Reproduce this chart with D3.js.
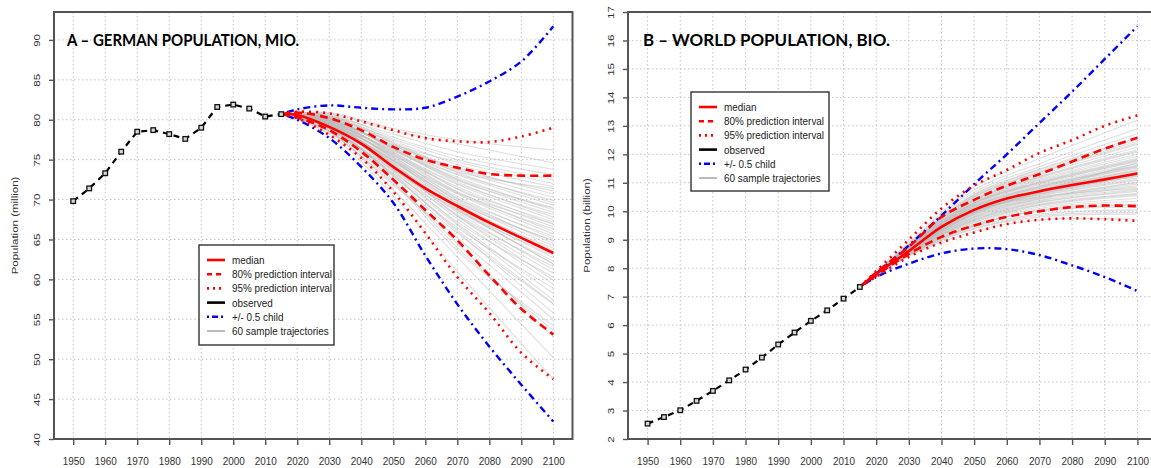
<!DOCTYPE html>
<html><head><meta charset="utf-8">
<script src="https://cdn.jsdelivr.net/npm/d3@7"></script>
<style>body{margin:0;background:#fff} text{font-family:"Liberation Sans",Arial,sans-serif}</style>
</head><body><svg id="c" width="1151" height="468"></svg>
<script>
// ---------- DATA ----------
const obsYears = [1950,1955,1960,1965,1970,1975,1980,1985,1990,1995,2000,2005,2010,2015];
const gerObserved = [69.8,71.4,73.3,76.0,78.5,78.7,78.2,77.6,79.0,81.6,81.9,81.4,80.4,80.7];
const worldObserved = [2.54,2.77,3.01,3.34,3.69,4.06,4.44,4.86,5.32,5.74,6.15,6.52,6.93,7.34];

const projYears = [2015,2020,2030,2040,2050,2060,2070,2080,2090,2100];
const gerMedian  = [80.7,80.6,79.1,77.0,74.1,71.4,69.2,67.1,65.2,63.3];
const gerPI80Up  = [80.7,80.9,80.2,78.7,76.6,75.0,74.0,73.2,73.0,73.0];
const gerPI80Lo  = [80.7,80.3,78.7,76.0,72.5,68.7,64.9,60.5,56.3,53.1];
const gerPI95Up  = [80.7,81.0,80.8,79.8,78.7,77.7,77.3,77.2,77.9,79.0];
const gerPI95Lo  = [80.7,80.2,78.1,75.2,71.0,65.8,60.3,55.8,50.8,47.5];
const gerChildUp = [80.7,81.3,81.8,81.5,81.3,81.5,82.9,84.8,87.3,91.7];
const gerChildLo = [80.7,80.0,77.7,74.1,69.6,63.0,56.9,51.6,46.8,42.2];

const worldMedian  = [7.34,7.80,8.60,9.45,10.05,10.45,10.70,10.92,11.12,11.33];
const worldPI80Up  = [7.34,7.85,8.75,9.80,10.40,10.90,11.30,11.75,12.20,12.58];
const worldPI80Lo  = [7.34,7.75,8.50,9.10,9.50,9.80,10.00,10.15,10.20,10.18];
const worldPI95Up  = [7.34,7.90,9.00,10.10,10.90,11.45,12.05,12.50,13.00,13.37];
const worldPI95Lo  = [7.34,7.70,8.40,8.90,9.25,9.55,9.70,9.75,9.72,9.66];
const worldChildUp = [7.34,7.80,8.80,9.85,10.95,12.00,13.10,14.20,15.35,16.50];
const worldChildLo = [7.34,7.69,8.16,8.52,8.69,8.67,8.46,8.10,7.69,7.20];

// sample trajectories: values at trajYears
const trajYears = [2015,2030,2050,2070,2100];
const gerTrajectories = [
 [80.7,78.2,70.5,61.0,47.5],[80.7,78.5,71.2,62.8,50.2],[80.7,78.4,72.0,64.5,52.8],[80.7,78.9,72.4,64.0,53.6],
 [80.7,78.6,71.8,65.2,55.0],[80.7,79.0,73.0,66.0,55.8],[80.7,78.8,72.6,65.8,56.9],[80.7,79.2,73.2,66.8,57.4],
 [80.7,78.7,73.5,67.0,58.2],[80.7,79.1,72.9,66.5,58.9],[80.7,79.3,73.8,67.6,59.4],[80.7,78.9,73.3,67.9,59.9],
 [80.7,79.4,73.6,67.2,60.3],[80.7,79.0,74.2,68.0,60.8],[80.7,79.5,73.9,68.4,61.2],[80.7,79.2,74.0,68.1,61.6],
 [80.7,79.6,74.5,68.8,62.0],[80.7,78.9,73.7,68.6,62.3],[80.7,79.3,74.3,69.0,62.7],[80.7,79.7,74.1,68.7,63.0],
 [80.7,79.1,74.6,69.3,63.3],[80.7,79.4,74.8,69.5,63.6],[80.7,79.8,74.4,69.2,63.9],[80.7,79.2,75.0,69.8,64.2],
 [80.7,79.5,74.7,70.1,64.5],[80.7,79.9,75.2,69.9,64.8],[80.7,79.3,74.9,70.4,65.1],[80.7,79.6,75.4,70.2,65.4],
 [80.7,80.0,75.1,70.7,65.7],[80.7,79.4,75.6,71.0,66.0],[80.7,79.7,75.3,70.8,66.3],[80.7,80.1,75.8,71.3,66.6],
 [80.7,79.5,75.5,71.6,66.9],[80.7,79.8,76.0,71.4,67.2],[80.7,80.2,75.7,71.9,67.5],[80.7,79.6,76.2,72.2,67.8],
 [80.7,79.9,75.9,72.0,68.1],[80.7,80.3,76.4,72.5,68.4],[80.7,79.7,76.1,72.8,68.7],[80.7,80.0,76.6,72.6,69.0],
 [80.7,80.4,76.3,73.1,69.3],[80.7,79.8,76.8,73.4,69.6],[80.7,80.1,76.5,73.2,69.9],[80.7,80.5,77.0,73.7,70.3],
 [80.7,79.9,76.7,74.0,70.7],[80.7,80.2,77.2,73.8,71.1],[80.7,80.6,77.4,74.4,71.6],[80.7,80.0,76.9,74.7,72.0],
 [80.7,80.3,77.6,75.0,72.5],[80.7,80.7,77.8,75.4,73.1],[80.7,80.4,78.2,76.0,73.8],[80.7,80.8,78.6,77.0,74.6],
 [80.7,78.6,72.2,63.6,54.2],[80.7,79.0,73.1,66.2,57.0],[80.7,79.3,74.1,68.9,61.9],[80.7,79.6,74.9,69.6,64.9],
 [80.7,79.9,75.6,70.9,67.0],[80.7,80.2,76.3,72.4,68.9],[80.7,80.5,77.1,73.5,71.4],[80.7,80.9,78.9,77.5,76.2]
];
const worldTrajectories = [
 [7.34,8.42,9.30,9.70,9.72],[7.34,8.45,9.38,9.80,9.90],[7.34,8.48,9.45,9.90,10.05],[7.34,8.50,9.50,10.00,10.15],
 [7.34,8.46,9.48,10.05,10.25],[7.34,8.52,9.55,10.10,10.35],[7.34,8.50,9.60,10.15,10.45],[7.34,8.55,9.62,10.20,10.55],
 [7.34,8.53,9.68,10.25,10.62],[7.34,8.57,9.70,10.30,10.70],[7.34,8.55,9.75,10.35,10.78],[7.34,8.60,9.78,10.38,10.85],
 [7.34,8.58,9.82,10.42,10.90],[7.34,8.62,9.85,10.45,10.96],[7.34,8.60,9.88,10.48,11.02],[7.34,8.64,9.90,10.52,11.08],
 [7.34,8.58,9.93,10.55,11.12],[7.34,8.63,9.95,10.58,11.17],[7.34,8.66,9.98,10.60,11.22],[7.34,8.61,10.00,10.63,11.26],
 [7.34,8.65,10.02,10.66,11.30],[7.34,8.68,10.05,10.69,11.34],[7.34,8.63,10.07,10.72,11.38],[7.34,8.67,10.10,10.75,11.42],
 [7.34,8.70,10.12,10.78,11.47],[7.34,8.65,10.14,10.81,11.52],[7.34,8.69,10.17,10.85,11.57],[7.34,8.72,10.20,10.88,11.62],
 [7.34,8.67,10.22,10.92,11.68],[7.34,8.71,10.25,10.96,11.74],[7.34,8.74,10.28,11.00,11.80],[7.34,8.69,10.30,11.04,11.86],
 [7.34,8.73,10.33,11.08,11.93],[7.34,8.76,10.36,11.12,12.00],[7.34,8.71,10.39,11.17,12.08],[7.34,8.75,10.42,11.22,12.16],
 [7.34,8.78,10.46,11.28,12.25],[7.34,8.74,10.50,11.34,12.35],[7.34,8.80,10.55,11.40,12.46],[7.34,8.77,10.60,11.48,12.58],
 [7.34,8.82,10.66,11.56,12.72],[7.34,8.86,10.75,11.68,12.90],[7.34,8.90,10.85,11.85,13.20],[7.34,8.48,9.52,10.02,10.20],
 [7.34,8.54,9.66,10.22,10.60],[7.34,8.59,9.80,10.44,11.00],[7.34,8.62,9.96,10.61,11.24],[7.34,8.66,10.08,10.74,11.44],
 [7.34,8.70,10.19,10.87,11.60],[7.34,8.73,10.29,11.02,11.83],[7.34,8.76,10.40,11.20,12.12],[7.34,8.79,10.52,11.37,12.40],
 [7.34,8.44,9.40,9.85,9.95],[7.34,8.56,9.72,10.32,10.74],[7.34,8.64,9.99,10.64,11.28],[7.34,8.68,10.16,10.83,11.55],
 [7.34,8.72,10.27,10.98,11.77],[7.34,8.81,10.58,11.45,12.52],[7.34,8.60,9.90,10.70,11.70],[7.34,8.70,10.00,10.50,10.80]
];

const xTickYears = [1950,1960,1970,1980,1990,2000,2010,2020,2030,2040,2050,2060,2070,2080,2090,2100];
const gerYTicks = [40,45,50,55,60,65,70,75,80,85,90];
const worldYTicks = [2,3,4,5,6,7,8,9,10,11,12,13,14,15,16,17];
const legendLabels = ["median","80% prediction interval","95% prediction interval","observed","+/- 0.5 child","60 sample trajectories"];
const titles = ["A \u2013 GERMAN POPULATION, MIO.","B \u2013 WORLD POPULATION, BIO."];
const yTitles = ["Population (million)","Population (billion)"];

// ---------- DRAW ----------
const svg = d3.select("#c");
svg.append("rect").attr("width",1151).attr("height",468).attr("fill","#fff");
const SX = 0.86; // horizontal squeeze of the original raster text
const RED = "#ff0000", BLUE = "#0000ff";
const styles = {
  median:{stroke:RED,w:2.6,dash:null},
  pi80:{stroke:RED,w:2.6,dash:"8,5"},
  pi95:{stroke:RED,w:2.6,dash:"2,5"},
  observed:{stroke:"#000",w:2.2,dash:null},
  child:{stroke:BLUE,w:2.4,dash:"2,4,7,4"},
  traj:{stroke:"#b8b8b8",w:1.1,dash:null}
};

function squeeze(sel){
  sel.attr("lengthAdjust","spacingAndGlyphs")
     .attr("textLength",function(){return this.getComputedTextLength()*SX;});
}

function panel(cfg){
  const top = 12, bottom = 439;
  const x = d3.scaleLinear().domain([1944,2106]).range([cfg.left,cfg.right]);
  const y = d3.scaleLinear().domain(cfg.yDomain).range([bottom,top]);
  const g = svg.append("g");

  // grid
  g.append("g").selectAll("line").data(xTickYears).join("line")
    .attr("x1",d=>x(d)).attr("x2",d=>x(d)).attr("y1",top).attr("y2",bottom)
    .attr("stroke","#c4c4c4").attr("stroke-width",1).attr("stroke-dasharray","1.5,2.5");
  g.append("g").selectAll("line").data(cfg.yTicks).join("line")
    .attr("x1",cfg.left).attr("x2",cfg.right).attr("y1",d=>y(d)).attr("y2",d=>y(d))
    .attr("stroke","#c4c4c4").attr("stroke-width",1).attr("stroke-dasharray","1.5,2.5");

  const line = (xs)=>d3.line().x((d,i)=>x(xs[i])).y(d=>y(d)).curve(d3.curveCatmullRom.alpha(0.5));
  const draw = (vals, xs, st)=>{
    const p = g.append("path").attr("d",line(xs)(vals)).attr("fill","none")
      .attr("stroke",st.stroke).attr("stroke-width",st.w).attr("stroke-linejoin","round");
    if(st.dash) p.attr("stroke-dasharray",st.dash);
    return p;
  };

  cfg.traj.forEach(t=>draw(t,trajYears,styles.traj).attr("stroke-opacity",0.45));
  draw(cfg.childUp,projYears,styles.child);
  draw(cfg.childLo,projYears,styles.child);
  draw(cfg.pi95Up,projYears,styles.pi95);
  draw(cfg.pi95Lo,projYears,styles.pi95);
  draw(cfg.pi80Up,projYears,styles.pi80);
  draw(cfg.pi80Lo,projYears,styles.pi80);
  draw(cfg.median,projYears,styles.median);

  // observed
  g.append("path").attr("d",d3.line().x((d,i)=>x(obsYears[i])).y(d=>y(d))(cfg.obs))
    .attr("fill","none").attr("stroke","#000").attr("stroke-width",2.2).attr("stroke-dasharray","6,5");
  g.append("g").selectAll("rect").data(cfg.obs).join("rect")
    .attr("x",(d,i)=>x(obsYears[i])-2.3).attr("y",d=>y(d)-2.3).attr("width",4.6).attr("height",4.6)
    .attr("fill","#d8d8d8").attr("stroke","#111").attr("stroke-width",1.3);

  // box
  g.append("rect").attr("x",cfg.left).attr("y",top).attr("width",cfg.right-cfg.left).attr("height",bottom-top)
    .attr("fill","none").attr("stroke","#555").attr("stroke-width",2);

  // x axis
  const xa = g.append("g").attr("transform",`translate(0,${bottom})`)
    .call(d3.axisBottom(x).tickValues(xTickYears).tickSize(6).tickFormat(d3.format("d")));
  xa.select(".domain").remove();
  xa.selectAll(".tick line").attr("stroke","#555").attr("stroke-width",1.4);
  xa.selectAll(".tick text").attr("y",26).attr("dy",0).attr("fill","#333")
    .style("font-size","11.5px").style("font-family","'Liberation Sans',Arial,sans-serif").call(squeeze);

  // y axis
  const ya = g.append("g").attr("transform",`translate(${cfg.left},0)`)
    .call(d3.axisLeft(y).tickValues(cfg.yTicks).tickSize(5));
  ya.select(".domain").remove();
  ya.selectAll(".tick line").attr("stroke","#555").attr("stroke-width",1.4);
  ya.selectAll(".tick text").attr("x",null).attr("dy","0.35em").attr("text-anchor","middle")
    .attr("transform",`translate(-17,0) scale(${SX},1) rotate(-90)`).attr("fill","#333")
    .style("font-size","11.5px").style("font-family","'Liberation Sans',Arial,sans-serif");

  // y title
  g.append("text").attr("transform",`translate(${cfg.yTitleX},${(top+bottom)/2}) scale(${SX},1) rotate(-90)`)
    .attr("text-anchor","middle").attr("dy","0.35em").attr("fill","#333").style("font-size","11.5px")
    .text(cfg.yTitle);

  // title
  g.append("text").attr("x",cfg.titleX).attr("y",46).attr("fill","#000")
    .style("font-family","Lato,'Open Sans',sans-serif").style("font-weight","700").style("font-size","17px")
    .attr("textLength",cfg.titleW).attr("lengthAdjust","spacingAndGlyphs").text(cfg.title);

  // legend
  const L = cfg.legend;
  const lg = g.append("g");
  lg.append("rect").attr("x",L.x).attr("y",L.y).attr("width",L.w).attr("height",L.h)
    .attr("fill","#fff").attr("stroke","#333").attr("stroke-width",1.4);
  const keys = ["median","pi80","pi95","observed","child","traj"];
  keys.forEach((k,i)=>{
    const yy = L.y + 15 + i*14.2;
    const st = styles[k];
    const ln = lg.append("line").attr("x1",L.x+8).attr("x2",L.x+26).attr("y1",yy).attr("y2",yy)
      .attr("stroke",k==="traj"?"#bbb":st.stroke).attr("stroke-width",k==="traj"?2:2.6);
    if(st.dash) ln.attr("stroke-dasharray",k==="pi80"?"5,4":(k==="pi95"?"2,4":"2,3,6,3"));
    lg.append("text").attr("x",L.x+33).attr("y",yy+4).attr("fill","#222").style("font-size","11.5px")
      .text(legendLabels[i]).call(squeeze);
  });
}

panel({left:54,right:572.5,yDomain:[40,93.5],yTicks:gerYTicks,obs:gerObserved,traj:gerTrajectories,
  median:gerMedian,pi80Up:gerPI80Up,pi80Lo:gerPI80Lo,pi95Up:gerPI95Up,pi95Lo:gerPI95Lo,
  childUp:gerChildUp,childLo:gerChildLo,yTitle:yTitles[0],yTitleX:15,title:titles[0],titleX:67,titleW:232,
  legend:{x:199,y:245,w:135,h:100}});
panel({left:628,right:1157,yDomain:[2,17],yTicks:worldYTicks,obs:worldObserved,traj:worldTrajectories,
  median:worldMedian,pi80Up:worldPI80Up,pi80Lo:worldPI80Lo,pi95Up:worldPI95Up,pi95Lo:worldPI95Lo,
  childUp:worldChildUp,childLo:worldChildLo,yTitle:yTitles[1],yTitleX:587,title:titles[1],titleX:643,titleW:247,
  legend:{x:691,y:92,w:138,h:99}});
</script></body></html>
